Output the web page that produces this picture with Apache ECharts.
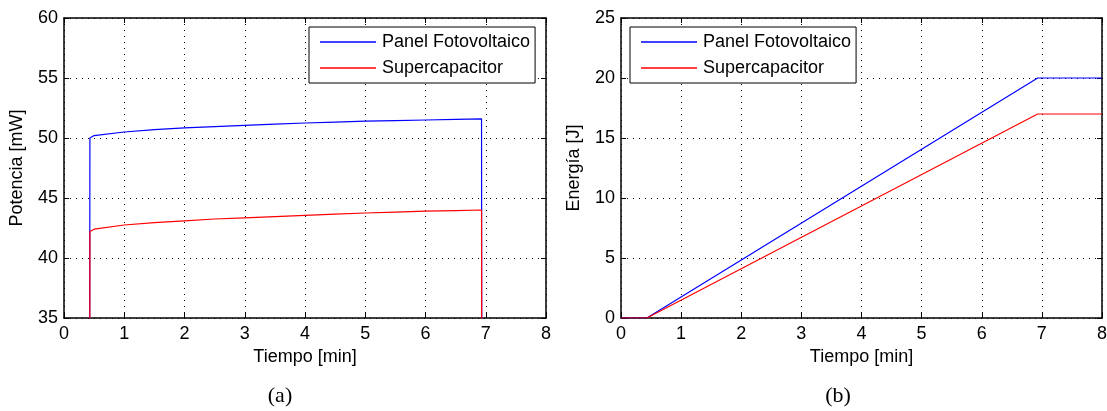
<!DOCTYPE html>
<html>
<head>
<meta charset="utf-8">
<script src="https://cdn.jsdelivr.net/npm/echarts@6/dist/echarts.min.js"></script>
<style>
html, body { margin: 0; padding: 0; background: #fff; }
#main { width: 1107px; height: 411px; }
</style>
</head>
<body>
<div id="main"></div>
<script>
// potencia (a): tiempo [min] -> mW
const tiempoPot = [0, 0.42, 0.43, 0.5, 1, 1.5, 2, 2.5, 3, 3.5, 4, 4.5, 5, 5.5, 6, 6.5, 6.93, 6.94];
const potPanel = [0, 0, 50.0, 50.2, 50.5, 50.7, 50.85, 50.95, 51.05, 51.15, 51.25, 51.33, 51.4, 51.45, 51.5, 51.55, 51.6, 0];
const potSuper = [0, 0, 42.2, 42.4, 42.75, 42.95, 43.1, 43.25, 43.35, 43.45, 43.55, 43.65, 43.75, 43.82, 43.9, 43.95, 44.0, 0];

// energia (b): tiempo [min] -> J
const tiempoEn = [0, 0.43, 6.93, 8];
const enPanel = [0, 0, 20.0, 20.0];
const enSuper = [0, 0, 17.0, 17.0];

const nombres = ['Panel Fotovoltaico', 'Supercapacitor'];
const colores = ['#0000ff', '#ff0000'];

function pares(xs, ys) {
  return xs.map(function (x, i) { return [x, ys[i]]; });
}

const fuente = 'Liberation Sans, Arial, sans-serif';
const grids = [
  { left: 64, top: 18, width: 482, height: 300, outerBoundsMode: 'none' },
  { left: 621, top: 18, width: 481, height: 300, outerBoundsMode: 'none' }
];

function ejeX(gi, abajo) {
  return {
    type: 'value', gridIndex: gi, min: 0, max: 8, interval: 1,
    position: abajo ? 'bottom' : 'top',
    name: abajo ? 'Tiempo [min]' : '',
    nameLocation: 'middle', nameGap: 30,
    nameTextStyle: { color: '#000', fontSize: 18, fontFamily: fuente },
    axisLine: { show: true, onZero: false, lineStyle: { color: '#000', width: 1.5 } },
    axisTick: { show: true, inside: true, length: 5, lineStyle: { color: '#000' } },
    axisLabel: { show: abajo, color: '#000', fontSize: 18, fontFamily: fuente, margin: 7 },
    splitLine: { show: abajo, lineStyle: { color: '#000', type: [1, 5], width: 1 } }
  };
}

function ejeY(gi, izq, min, max, interval, nombre) {
  return {
    type: 'value', gridIndex: gi, min: min, max: max, interval: interval,
    position: izq ? 'left' : 'right',
    name: izq ? nombre : '',
    nameLocation: 'middle', nameGap: 38,
    nameTextStyle: { color: '#000', fontSize: 18, fontFamily: fuente },
    axisLine: { show: true, onZero: false, lineStyle: { color: '#000', width: 1.5 } },
    axisTick: { show: true, inside: true, length: 5, lineStyle: { color: '#000' } },
    axisLabel: { show: izq, color: '#000', fontSize: 18, fontFamily: fuente, margin: 6 },
    splitLine: { show: izq, lineStyle: { color: '#000', type: [1, 5], width: 1 } }
  };
}

function leyenda(left) {
  return {
    left: left, top: 27, orient: 'vertical',
    data: nombres.map(function (n) { return { name: n, icon: 'rect' }; }),
    itemWidth: 56, itemHeight: 1.5, itemGap: 8,
    backgroundColor: '#fff',
    borderColor: '#000', borderWidth: 1, borderRadius: 0,
    padding: [6, 5, 6, 11],
    textStyle: { color: '#000', fontSize: 18, lineHeight: 18, fontFamily: fuente, padding: [0, 0, 0, 1] }
  };
}

function serie(nombre, color, datos, xi, yi) {
  return {
    name: nombre, type: 'line', xAxisIndex: xi, yAxisIndex: yi,
    data: datos, showSymbol: false, symbol: 'none', clip: true,
    lineStyle: { color: color, width: 1.2 }, itemStyle: { color: color },
    animation: false, z: 3
  };
}

const chart = echarts.init(document.getElementById('main'));
chart.setOption({
  animation: false,
  backgroundColor: '#fff',
  grid: grids,
  title: [
    { text: '(a)', left: 275, top: 380, textAlign: 'center',
      textStyle: { fontFamily: 'Liberation Serif, Times New Roman, serif', fontWeight: 'normal', fontSize: 22, color: '#000' } },
    { text: '(b)', left: 833, top: 380, textAlign: 'center',
      textStyle: { fontFamily: 'Liberation Serif, Times New Roman, serif', fontWeight: 'normal', fontSize: 22, color: '#000' } }
  ],
  legend: [leyenda(309), leyenda(630)],
  xAxis: [ejeX(0, true), ejeX(0, false), ejeX(1, true), ejeX(1, false)],
  yAxis: [
    ejeY(0, true, 35, 60, 5, 'Potencia [mW]'), ejeY(0, false, 35, 60, 5, ''),
    ejeY(1, true, 0, 25, 5, 'Energía [J]'), ejeY(1, false, 0, 25, 5, '')
  ],
  series: [
    serie(nombres[0], colores[0], pares(tiempoPot, potPanel), 0, 0),
    serie(nombres[1], colores[1], pares(tiempoPot, potSuper), 0, 0),
    serie(nombres[0], colores[0], pares(tiempoEn, enPanel), 2, 2),
    serie(nombres[1], colores[1], pares(tiempoEn, enSuper), 2, 2)
  ]
});
</script>
</body>
</html>
